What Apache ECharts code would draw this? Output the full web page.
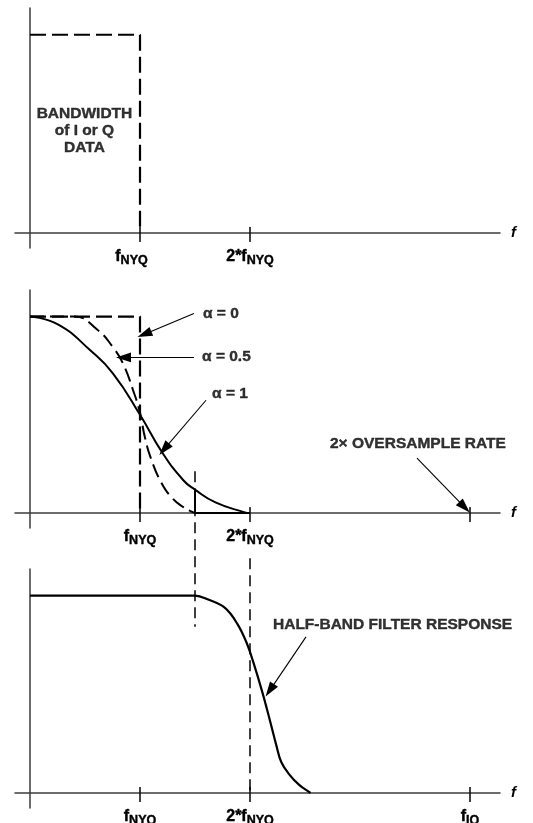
<!DOCTYPE html>
<html>
<head>
<meta charset="utf-8">
<script src="https://cdn.jsdelivr.net/npm/echarts@6/dist/echarts.min.js"></script>
<style>
html, body { margin: 0; padding: 0; background: #fff; }
#main { width: 533px; height: 823px; }
</style>
</head>
<body>
<div id="main"></div>
<script>
// x is in units of f_NYQ, y is the normalised magnitude
var labelsTop = [1, 2];
var labelsMid = [1, 2];
var labelsBot = [1, 2, 4];
var ticksTop = [1, 2];
var ticksMid = [1, 2, 4];
var ticksBot = [1, 2, 4];

var bandwidthRect = [[0, 1], [1, 1], [1, 0]];

var alpha0 = [[0, 1], [1, 1], [1, 0]];
var alpha05 = [[0, 1], [0.4, 1], [0.61, 0.934], [0.755, 0.843], [0.846, 0.76], [0.936, 0.627],
  [1.0, 0.51], [1.044, 0.387], [1.102, 0.274], [1.19, 0.159], [1.29, 0.078], [1.394, 0.03], [1.48, 0.005], [1.5, 0]];
var alpha1 = [[0, 1], [0.253, 0.96], [0.55, 0.827], [0.755, 0.71], [1.0, 0.5],
  [1.2, 0.31], [1.394, 0.167], [1.5, 0.119], [1.686, 0.054], [1.945, 0.005], [2.0, 0]];
var stopEdge = [[1.5, 0.119], [1.5, 0], [2, 0]];
var cutoffLine = [[1.5, 0.213], [1.5, -0.579]];

var halfBand = [[0, 1], [1.5, 1], [1.62, 0.98], [1.77, 0.939], [1.885, 0.857], [1.97, 0.76],
  [2.03, 0.663], [2.11, 0.515], [2.18, 0.37], [2.24, 0.24], [2.285, 0.156], [2.36, 0.092],
  [2.447, 0.041], [2.53, 0.008], [2.55, 0]];
var nyq2Line = [[2, 1.19], [2, 0]];

// annotation text: [x, y, text]
var notesTop = [[0.495, 0.518, 'BANDWIDTH\nof I or Q\nDATA']];
var notesMid = [[1.573, 1.015, 'α = 0'], [1.564, 0.797, 'α = 0.5'], [1.655, 0.609, 'α = 1'], [2.727, 0.355, '2× OVERSAMPLE RATE']];
var notesBot = [[2.209, 0.852, 'HALF-BAND FILTER RESPONSE']];
// arrows: [from, to]
var arrowsMid = [
  [[1.49, 1.015], [1.04, 0.91]],
  [[1.49, 0.792], [0.85, 0.792]],
  [[1.6, 0.574], [1.22, 0.325]],
  [[3.518, 0.279], [3.95, 0.03]]
];
var arrowsBot = [
  [[2.509, 0.791], [2.18, 0.52]]
];

var FONT = 'Liberation Sans, Arial, sans-serif';
var AXIS = '#3c3c3c';

function tickText(v) {
  if (v === 1) return '{f|f}{s|NYQ}';
  if (v === 2) return '{f|2*f}{s|NYQ}';
  return '{f|f}{s|IQ}';
}
// top panel's first label sits a little left of its tick
function tickTextTop(v) {
  return v === 1 ? '{f|f}{s|NYQ}{g|}' : tickText(v);
}

var boldText = { fontFamily: FONT, fontWeight: 'bold', color: '#000', textBorderColor: '#000', textBorderWidth: 0.4 };

function makeX(idx, labels, fmt) {
  return {
    type: 'value', gridIndex: idx, min: -0.13636, max: 4.2727,
    name: 'f', nameLocation: 'end', nameGap: 11,
    nameTextStyle: { fontFamily: FONT, fontStyle: 'italic', fontWeight: 'bold', fontSize: 15, color: '#000' },
    axisLine: { onZero: true, lineStyle: { color: AXIS, width: 1.5 } },
    axisTick: { show: false },
    splitLine: { show: false },
    axisLabel: {
      customValues: labels, margin: 1, formatter: fmt || tickText,
      rich: {
        f: Object.assign({ fontSize: 16, verticalAlign: 'top' }, boldText),
        s: Object.assign({ fontSize: 12.5, verticalAlign: 'top', padding: [5, 0, 0, 0] }, boldText),
        g: { width: 17 }
      }
    }
  };
}

function makeY(idx) {
  return {
    type: 'value', gridIndex: idx, min: -0.076, max: 1.135,
    axisLine: { show: true, onZero: true, lineStyle: { color: AXIS, width: 1.5 } },
    axisTick: { show: false }, axisLabel: { show: false }, splitLine: { show: false }
  };
}

function curve(idx, data, dash, width, smooth) {
  return {
    type: 'line', xAxisIndex: idx, yAxisIndex: idx, data: data, clip: false,
    symbol: 'none', smooth: smooth || false, silent: true,
    lineStyle: { color: '#000', width: width || 2.2, type: dash || 'solid' }
  };
}

function ticks(idx, xs) {
  return {
    type: 'scatter', xAxisIndex: idx, yAxisIndex: idx, silent: true,
    data: xs.map(function (x) { return [x, 0]; }),
    symbol: 'rect', symbolSize: [2, 15], symbolOffset: [0, 1.5],
    itemStyle: { color: '#111' }
  };
}

function notes(idx, list, arrows, center) {
  var s = {
    type: 'scatter', xAxisIndex: idx, yAxisIndex: idx, silent: true, symbolSize: 0,
    data: list.map(function (n) { return { value: [n[0], n[1]], name: n[2] }; }),
    label: Object.assign({
      show: true, formatter: '{b}', position: center ? 'inside' : 'right', distance: 0,
      fontSize: 15.5, lineHeight: 17, align: center ? 'center' : 'left'
    }, boldText)
  };
  if (arrows) {
    s.markLine = {
      silent: true, animation: false,
      symbol: ['none', 'path://M0,0L4.5,14L-4.5,14Z'], symbolSize: 15, symbolKeepAspect: true,
      label: { show: false },
      lineStyle: { color: '#000', width: 1.1, type: 'solid' },
      itemStyle: { color: '#000' },
      data: arrows.map(function (a) { return [{ coord: a[0] }, { coord: a[1] }]; })
    };
  }
  return s;
}

var chart = echarts.init(document.getElementById('main'));
chart.setOption({
  backgroundColor: '#fff',
  animation: false,
  grid: [
    { left: 15, right: 33, top: 8, height: 240, outerBoundsMode: 'none' },
    { left: 15, right: 33, top: 290, height: 238, outerBoundsMode: 'none' },
    { left: 15, right: 33, top: 569, height: 239, outerBoundsMode: 'none' }
  ],
  xAxis: [makeX(0, labelsTop, tickTextTop), makeX(1, labelsMid), makeX(2, labelsBot)],
  yAxis: [makeY(0), makeY(1), makeY(2)],
  series: [
    curve(0, bandwidthRect, [16, 6], 2.2),
    ticks(0, ticksTop),
    notes(0, notesTop, null, true),

    curve(1, alpha0, [16, 6], 2.2),
    curve(1, alpha05, [14, 6], 2, 0.5),
    curve(1, alpha1, 'solid', 2, 0.5),
    curve(1, stopEdge, 'solid', 2),
    curve(1, cutoffLine, [11, 6], 1.5),
    ticks(1, ticksMid),
    notes(1, notesMid, arrowsMid),

    curve(2, halfBand, 'solid', 2.2, 0.4),
    curve(2, nyq2Line, [11, 6], 1.5),
    ticks(2, ticksBot),
    notes(2, notesBot, arrowsBot)
  ]
});
</script>
</body>
</html>
